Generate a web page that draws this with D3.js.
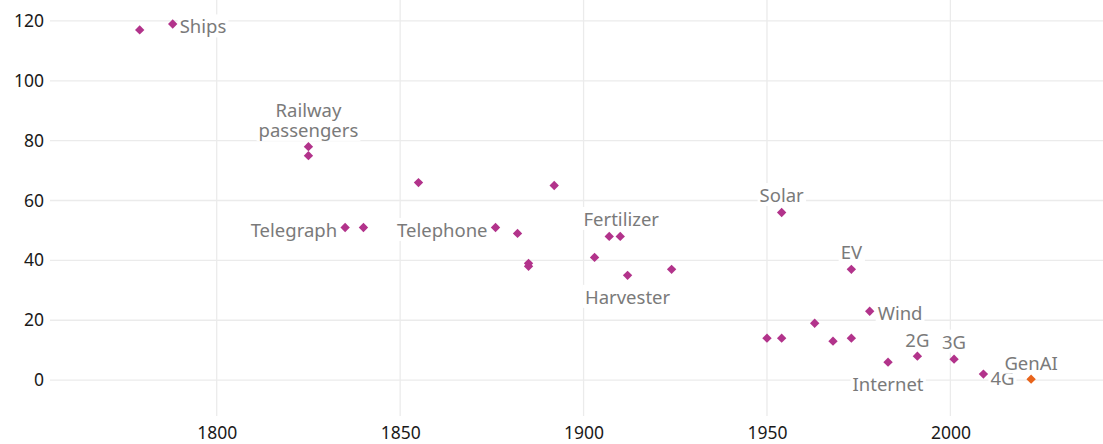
<!DOCTYPE html>
<html>
<head>
<meta charset="utf-8">
<script src="https://cdn.jsdelivr.net/npm/d3@7"></script>
<style>
  body { margin: 0; background: #fff; }
  svg { font-family: "Noto Sans", "Open Sans", sans-serif; }
</style>
</head>
<body>
<div id="chart"></div>
<script>
// chart size
var svgWidth = 1103;
var svgHeight = 444;

// data: year of invention vs. years to adoption
var years  = [1779, 1788, 1825, 1825, 1835, 1840, 1855, 1876, 1882, 1885, 1885, 1892,
              1903, 1907, 1910, 1912, 1924, 1950, 1954, 1954, 1963, 1968, 1973, 1973,
              1978, 1983, 1991, 2001, 2009, 2022];
var values = [117, 119, 78, 75, 51, 51, 66, 51, 49, 39, 38, 65,
              41, 48, 48, 35, 37, 14, 56, 14, 19, 13, 37, 14,
              23, 6, 8, 7, 2, 0.3];
var highlight = [false, false, false, false, false, false, false, false, false, false, false, false,
                 false, false, false, false, false, false, false, false, false, false, false, false,
                 false, false, false, false, false, true];

// labelled points
var labelNames  = ["Ships", "Railway\npassengers", "Telegraph", "Telephone", "Fertilizer", "Harvester",
                   "Solar", "EV", "Wind", "Internet", "2G", "3G", "4G", "GenAI"];
var labelYears  = [1788, 1825, 1835, 1876, 1910, 1912, 1954, 1973, 1978, 1983, 1991, 2001, 2009, 2022];
var labelValues = [119, 78, 51, 51, 48, 35, 56, 37, 23, 6, 8, 7, 2, 0.3];

var xTicks = [1800, 1850, 1900, 1950, 2000];
var yTicks = [0, 20, 40, 60, 80, 100, 120];

var margin = { top: 0, right: 0, bottom: 28, left: 50 };
var width = svgWidth - margin.left - margin.right;
var height = svgHeight - margin.top - margin.bottom;

var svg = d3.select("#chart").append("svg")
  .attr("width", svgWidth)
  .attr("height", svgHeight);

var chartGroup = svg.append("g")
  .attr("transform", `translate(${margin.left},${margin.top})`);

var xScale = d3.scaleLinear().domain([1754.55, 2041.6]).range([0, width]);
var yScale = d3.scaleLinear().domain([-12, 127]).range([height, 0]);

// gridlines
chartGroup.append("g").selectAll("line").data(yTicks).enter().append("line")
  .attr("x1", 0).attr("x2", width)
  .attr("y1", d => yScale(d)).attr("y2", d => yScale(d))
  .attr("stroke", "#ebebeb").attr("stroke-width", 1.3);

chartGroup.append("g").selectAll("line").data(xTicks).enter().append("line")
  .attr("y1", 0).attr("y2", height)
  .attr("x1", d => xScale(d)).attr("x2", d => xScale(d))
  .attr("stroke", "#ebebeb").attr("stroke-width", 1.3);

// axes (text only)
var xAxis = chartGroup.append("g")
  .attr("transform", `translate(0, ${height})`)
  .call(d3.axisBottom(xScale).tickValues(xTicks).tickFormat(d3.format("d")).tickSize(0).tickPadding(11));
var yAxis = chartGroup.append("g")
  .call(d3.axisLeft(yScale).tickValues(yTicks).tickSize(0).tickPadding(6));

[xAxis, yAxis].forEach(function(ax) {
  ax.select(".domain").remove();
  ax.selectAll("text")
    .attr("font-family", "Noto Sans, Open Sans, sans-serif")
    .attr("font-size", 17.5)
    .attr("fill", "#1a1a1a");
});

// label placement: dx, dy of text centre from point, anchor
var placement = {
  "Ships": [7, 3, "start"],
  "Railway\npassengers": [0, -26, "middle"],
  "Telegraph": [-8, 3, "end"],
  "Telephone": [-8, 3, "end"],
  "Fertilizer": [1, -17, "middle"],
  "Harvester": [0, 22, "middle"],
  "Solar": [0, -17, "middle"],
  "EV": [0, -17, "middle"],
  "Wind": [8, 2, "start"],
  "Internet": [0, 22, "middle"],
  "2G": [0, -16, "middle"],
  "3G": [0, -17, "middle"],
  "4G": [7, 4, "start"],
  "GenAI": [0, -16, "middle"]
};

var labelGroup = chartGroup.append("g");
labelNames.forEach(function(name, i) {
  var p = placement[name];
  var lines = name.split("\n");
  var cx = xScale(labelYears[i]) + p[0];
  var cy = yScale(labelValues[i]) + p[1];
  var g = labelGroup.append("g");
  var t = g.append("text")
    .attr("text-anchor", p[2])
    .attr("font-size", 18.5)
    .attr("fill", "#7a7a7a");
  var lineH = 19.5;
  var y0 = cy - (lines.length - 1) * lineH / 2;
  lines.forEach(function(l, j) {
    t.append("tspan")
      .attr("x", cx)
      .attr("y", y0 + j * lineH)
      .attr("dy", "0.35em")
      .text(l);
  });
  var bb = t.node().getBBox();
  g.insert("rect", "text")
    .attr("x", bb.x - 2).attr("y", bb.y + 1)
    .attr("width", bb.width + 4).attr("height", bb.height - 2)
    .attr("fill", "#fff");
});

// points
var diamond = d3.symbol().type(d3.symbolDiamond2).size(56);
chartGroup.append("g").selectAll("path")
  .data(years.map((y, i) => ({ year: y, value: values[i], hi: highlight[i] })))
  .enter().append("path")
  .attr("d", diamond)
  .attr("transform", d => `translate(${xScale(d.year)},${yScale(d.value)})`)
  .attr("fill", d => d.hi ? "#e8641b" : "#b2338b");
</script>
</body>
</html>
